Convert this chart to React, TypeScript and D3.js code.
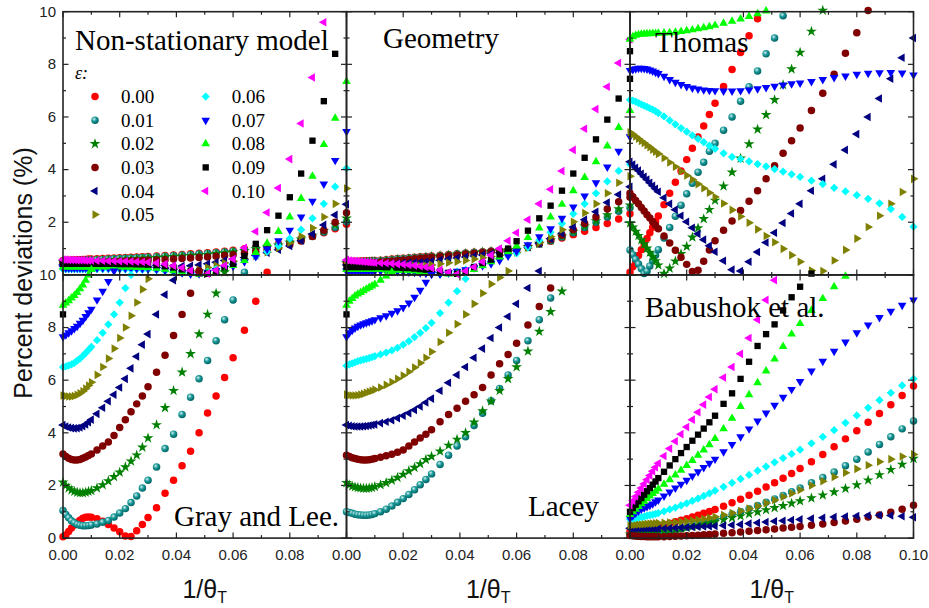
import React from 'react';
import * as d3 from 'd3';

// ε values of the eleven series, with their colours and symbols
const EPS_LABELS = ['0.00', '0.01', '0.02', '0.03', '0.04', '0.05', '0.06', '0.07', '0.08', '0.09', '0.10'];
const SERIES_COLORS = ['#ff0000', '#008080', '#008000', '#800000', '#000080', '#808000', '#00ffff', '#0000ff', '#00ff00', '#000000', '#ff00ff'];
const SERIES_SHAPES = ['circle', 'ball', 'star', 'circle', 'left', 'right', 'diamond', 'down', 'up', 'square', 'left'];

// 1/θT sampling points shared by all curves
const X_GRID = [0, 0.001, 0.002, 0.003, 0.004, 0.005, 0.006, 0.007, 0.008, 0.009, 0.01,
  0.012, 0.014, 0.016, 0.018, 0.02, 0.022, 0.024, 0.026, 0.028, 0.03,
  0.033, 0.036, 0.039, 0.042, 0.045, 0.048, 0.051, 0.054, 0.057, 0.06,
  0.064, 0.068, 0.072, 0.076, 0.08, 0.084, 0.088, 0.092, 0.096, 0.1];

const X_TICKS = [0, 0.02, 0.04, 0.06, 0.08, 0.1];
const X_MINOR = [0.01, 0.03, 0.05, 0.07, 0.09];
const Y_TICKS = [0, 2, 4, 6, 8, 10];
const Y_MINOR = [1, 3, 5, 7, 9];

// percent deviations (%), one row per ε, read at X_GRID; rows stop once the curve leaves the frame
const nonStationary = [
  [0.55, 0.56, 0.56, 0.57, 0.57, 0.58, 0.58, 0.59, 0.59, 0.6, 0.6, 0.61, 0.62, 0.63, 0.64, 0.65, 0.66, 0.67, 0.68, 0.69, 0.7, 0.72, 0.74, 0.76, 0.78, 0.8, 0.82, 0.84, 0.87, 0.9, 0.94, 0.99, 1.04, 1.1, 1.18, 1.27, 1.37, 1.48, 1.6, 1.75, 1.92],
  [0.52, 0.52, 0.53, 0.53, 0.54, 0.54, 0.55, 0.55, 0.56, 0.56, 0.57, 0.58, 0.59, 0.6, 0.61, 0.62, 0.63, 0.64, 0.65, 0.66, 0.67, 0.69, 0.71, 0.73, 0.75, 0.77, 0.79, 0.81, 0.84, 0.87, 0.9, 0.95, 1.0, 1.07, 1.15, 1.24, 1.35, 1.48, 1.63, 1.8, 2.02],
  [0.48, 0.48, 0.49, 0.49, 0.5, 0.5, 0.51, 0.51, 0.52, 0.52, 0.53, 0.54, 0.55, 0.56, 0.57, 0.58, 0.59, 0.6, 0.61, 0.62, 0.63, 0.65, 0.67, 0.69, 0.71, 0.73, 0.75, 0.77, 0.8, 0.83, 0.87, 0.92, 0.98, 1.05, 1.13, 1.23, 1.35, 1.5, 1.68, 1.9, 2.15],
  [0.44, 0.44, 0.45, 0.45, 0.45, 0.46, 0.46, 0.46, 0.47, 0.47, 0.47, 0.48, 0.49, 0.5, 0.5, 0.51, 0.52, 0.53, 0.54, 0.55, 0.56, 0.57, 0.58, 0.6, 0.62, 0.64, 0.66, 0.68, 0.71, 0.74, 0.77, 0.82, 0.88, 0.95, 1.04, 1.15, 1.29, 1.46, 1.7, 2.0, 2.36],
  [0.38, 0.38, 0.38, 0.38, 0.38, 0.38, 0.38, 0.38, 0.38, 0.38, 0.38, 0.38, 0.38, 0.38, 0.38, 0.38, 0.38, 0.38, 0.38, 0.38, 0.38, 0.37, 0.36, 0.35, 0.34, 0.35, 0.38, 0.42, 0.48, 0.55, 0.6, 0.66, 0.74, 0.84, 0.96, 1.1, 1.3, 1.55, 1.9, 2.28, 2.68],
  [0.32, 0.32, 0.32, 0.32, 0.32, 0.32, 0.32, 0.32, 0.32, 0.32, 0.32, 0.32, 0.32, 0.32, 0.32, 0.32, 0.32, 0.31, 0.31, 0.31, 0.3, 0.28, 0.26, 0.22, 0.18, 0.16, 0.2, 0.28, 0.36, 0.45, 0.52, 0.6, 0.72, 0.86, 1.02, 1.22, 1.47, 1.78, 2.2, 2.7, 3.28],
  [0.22, 0.22, 0.22, 0.22, 0.22, 0.22, 0.22, 0.22, 0.22, 0.22, 0.22, 0.22, 0.22, 0.22, 0.22, 0.22, 0.21, 0.21, 0.21, 0.2, 0.2, 0.18, 0.15, 0.12, 0.08, 0.05, 0.06, 0.12, 0.22, 0.32, 0.42, 0.55, 0.7, 0.88, 1.1, 1.38, 1.72, 2.15, 2.7, 3.35, 4.05],
  [0.26, 0.26, 0.26, 0.26, 0.26, 0.26, 0.26, 0.26, 0.26, 0.26, 0.26, 0.26, 0.26, 0.26, 0.26, 0.25, 0.25, 0.25, 0.24, 0.24, 0.23, 0.21, 0.18, 0.13, 0.08, 0.03, 0.04, 0.1, 0.17, 0.25, 0.33, 0.5, 0.7, 0.98, 1.3, 1.7, 2.2, 2.8, 3.45, 4.35, 5.45],
  [0.3, 0.3, 0.3, 0.3, 0.3, 0.3, 0.3, 0.3, 0.3, 0.3, 0.3, 0.3, 0.3, 0.3, 0.3, 0.3, 0.29, 0.29, 0.28, 0.28, 0.27, 0.25, 0.21, 0.16, 0.1, 0.05, 0.02, 0.06, 0.14, 0.24, 0.36, 0.55, 0.85, 1.2, 1.65, 2.2, 2.9, 3.75, 4.95, 5.95, 7.35],
  [0.42, 0.42, 0.42, 0.42, 0.42, 0.42, 0.42, 0.42, 0.42, 0.42, 0.42, 0.42, 0.42, 0.42, 0.42, 0.41, 0.41, 0.41, 0.4, 0.4, 0.39, 0.37, 0.33, 0.28, 0.21, 0.14, 0.07, 0.04, 0.1, 0.24, 0.42, 0.72, 1.18, 1.7, 2.25, 2.95, 3.85, 5.1, 6.6, 8.4, 10.5],
  [0.58, 0.58, 0.57, 0.57, 0.57, 0.56, 0.56, 0.56, 0.55, 0.55, 0.55, 0.54, 0.54, 0.53, 0.53, 0.52, 0.52, 0.51, 0.5, 0.49, 0.48, 0.45, 0.41, 0.35, 0.27, 0.17, 0.08, 0.05, 0.18, 0.36, 0.6, 1.03, 1.65, 2.37, 3.3, 4.4, 5.75, 7.5, 9.6],
];

const geometry = [
  [0.5, 0.51, 0.51, 0.52, 0.52, 0.53, 0.53, 0.54, 0.54, 0.55, 0.55, 0.56, 0.58, 0.6, 0.62, 0.63, 0.65, 0.67, 0.69, 0.7, 0.72, 0.75, 0.78, 0.8, 0.83, 0.86, 0.88, 0.91, 0.93, 0.96, 0.98, 1.07, 1.17, 1.28, 1.4, 1.53, 1.66, 1.8, 1.95, 2.12, 2.32],
  [0.48, 0.48, 0.49, 0.49, 0.5, 0.5, 0.51, 0.51, 0.52, 0.52, 0.53, 0.54, 0.56, 0.58, 0.6, 0.61, 0.63, 0.65, 0.67, 0.68, 0.7, 0.73, 0.76, 0.79, 0.82, 0.85, 0.87, 0.9, 0.92, 0.94, 0.96, 1.06, 1.17, 1.3, 1.44, 1.6, 1.8, 2.0, 2.2, 2.42, 2.55],
  [0.45, 0.45, 0.46, 0.46, 0.47, 0.47, 0.48, 0.48, 0.49, 0.49, 0.5, 0.52, 0.54, 0.56, 0.58, 0.59, 0.61, 0.63, 0.65, 0.67, 0.69, 0.72, 0.75, 0.78, 0.81, 0.84, 0.87, 0.89, 0.92, 0.94, 0.96, 1.07, 1.19, 1.32, 1.47, 1.65, 1.85, 2.05, 2.28, 2.5, 2.65],
  [0.42, 0.42, 0.43, 0.43, 0.44, 0.44, 0.45, 0.45, 0.46, 0.46, 0.47, 0.49, 0.51, 0.53, 0.55, 0.57, 0.59, 0.61, 0.63, 0.65, 0.67, 0.7, 0.73, 0.76, 0.79, 0.82, 0.85, 0.88, 0.9, 0.93, 0.95, 1.07, 1.2, 1.35, 1.52, 1.72, 1.95, 2.2, 2.5, 2.78, 2.95],
  [0.38, 0.38, 0.38, 0.38, 0.39, 0.39, 0.39, 0.39, 0.4, 0.4, 0.4, 0.41, 0.42, 0.43, 0.44, 0.45, 0.46, 0.47, 0.48, 0.5, 0.52, 0.56, 0.6, 0.64, 0.68, 0.72, 0.76, 0.8, 0.84, 0.88, 0.92, 1.05, 1.2, 1.38, 1.58, 1.82, 2.1, 2.4, 2.75, 3.05, 3.35],
  [0.34, 0.34, 0.34, 0.34, 0.34, 0.34, 0.34, 0.34, 0.34, 0.34, 0.34, 0.34, 0.34, 0.34, 0.34, 0.34, 0.34, 0.35, 0.35, 0.36, 0.38, 0.42, 0.46, 0.5, 0.55, 0.6, 0.65, 0.7, 0.75, 0.8, 0.85, 1.02, 1.22, 1.45, 1.72, 2.02, 2.35, 2.7, 3.1, 3.5, 3.75],
  [0.22, 0.22, 0.22, 0.22, 0.22, 0.22, 0.22, 0.22, 0.22, 0.21, 0.21, 0.21, 0.2, 0.19, 0.18, 0.17, 0.15, 0.13, 0.11, 0.09, 0.06, 0.02, 0.06, 0.12, 0.2, 0.3, 0.42, 0.53, 0.64, 0.74, 0.82, 1.05, 1.32, 1.62, 1.95, 2.32, 2.7, 3.1, 3.55, 3.95, 4.2],
  [0.15, 0.15, 0.15, 0.15, 0.15, 0.15, 0.15, 0.15, 0.15, 0.15, 0.15, 0.15, 0.14, 0.14, 0.13, 0.12, 0.11, 0.1, 0.08, 0.06, 0.04, 0.03, 0.08, 0.14, 0.2, 0.27, 0.35, 0.42, 0.55, 0.72, 0.9, 1.15, 1.45, 1.75, 2.15, 2.58, 3.0, 3.5, 4.1, 4.7, 5.25],
  [0.2, 0.2, 0.2, 0.2, 0.2, 0.2, 0.2, 0.2, 0.2, 0.2, 0.2, 0.2, 0.19, 0.19, 0.18, 0.17, 0.16, 0.15, 0.13, 0.11, 0.09, 0.06, 0.03, 0.04, 0.08, 0.2, 0.35, 0.5, 0.68, 0.88, 1.1, 1.42, 1.78, 2.2, 2.68, 3.2, 3.7, 4.3, 4.9, 5.6, 6.25],
  [0.3, 0.3, 0.3, 0.3, 0.3, 0.3, 0.3, 0.3, 0.3, 0.3, 0.3, 0.3, 0.29, 0.29, 0.28, 0.27, 0.26, 0.24, 0.22, 0.2, 0.17, 0.13, 0.08, 0.04, 0.1, 0.3, 0.45, 0.58, 0.78, 1.0, 1.28, 1.68, 2.15, 2.63, 3.2, 3.85, 4.45, 5.15, 5.9, 6.7, 7.45],
  [0.57, 0.55, 0.54, 0.53, 0.52, 0.51, 0.5, 0.49, 0.48, 0.47, 0.46, 0.45, 0.44, 0.43, 0.41, 0.4, 0.38, 0.36, 0.33, 0.3, 0.26, 0.19, 0.1, 0.03, 0.15, 0.3, 0.5, 0.75, 1.0, 1.3, 1.6, 2.1, 2.7, 3.25, 3.95, 4.75, 5.55, 6.3, 7.15, 8.05, 8.95],
];

const thomas = [
  [0.1, 0.31, 0.53, 0.74, 0.96, 1.17, 1.38, 1.6, 1.81, 2.03, 2.24, 2.67, 3.1, 3.52, 3.95, 4.38, 4.81, 5.24, 5.66, 6.09, 6.52, 7.16, 7.8, 8.45, 9.09, 9.73, 10.37],
  [0.95, 0.77, 0.59, 0.41, 0.23, 0.05, 0.14, 0.34, 0.55, 0.75, 0.96, 1.4, 1.8, 2.23, 2.65, 3.08, 3.48, 3.9, 4.28, 4.7, 5.0, 5.5, 6.0, 6.6, 7.15, 7.75, 8.4, 9.0, 9.85, 10.4],
  [1.97, 1.81, 1.65, 1.49, 1.33, 1.17, 1.01, 0.85, 0.69, 0.53, 0.37, 0.05, 0.25, 0.52, 0.8, 1.08, 1.43, 1.78, 2.13, 2.48, 2.83, 3.37, 3.9, 4.43, 4.97, 5.53, 6.08, 6.65, 7.22, 7.82, 8.45, 9.25, 10.05],
  [3.1, 2.97, 2.83, 2.7, 2.56, 2.43, 2.29, 2.16, 2.02, 1.89, 1.75, 1.48, 1.21, 0.94, 0.67, 0.4, 0.13, 0.18, 0.52, 0.95, 1.3, 1.7, 2.05, 2.45, 2.8, 3.2, 3.65, 4.15, 4.62, 5.1, 5.58, 6.25, 6.9, 7.62, 8.42, 9.2, 10.05],
  [4.3, 4.19, 4.07, 3.96, 3.84, 3.73, 3.62, 3.5, 3.39, 3.27, 3.16, 2.93, 2.7, 2.48, 2.25, 2.02, 1.79, 1.56, 1.34, 1.11, 0.88, 0.54, 0.2, 0.15, 0.5, 0.87, 1.23, 1.6, 1.97, 2.33, 2.7, 3.2, 3.65, 4.2, 4.75, 5.35, 6.0, 6.7, 7.45, 8.25, 9.0],
  [5.42, 5.34, 5.26, 5.17, 5.09, 5.01, 4.93, 4.85, 4.76, 4.68, 4.6, 4.44, 4.27, 4.11, 3.94, 3.78, 3.62, 3.45, 3.29, 3.12, 2.96, 2.71, 2.47, 2.22, 1.98, 1.73, 1.48, 1.24, 0.99, 0.75, 0.5, 0.17, 0.15, 0.55, 0.95, 1.38, 1.82, 2.25, 2.7, 3.15, 3.65],
  [6.65, 6.62, 6.58, 6.53, 6.48, 6.43, 6.38, 6.33, 6.28, 6.22, 6.15, 6.02, 5.87, 5.72, 5.58, 5.44, 5.3, 5.17, 5.04, 4.91, 4.79, 4.62, 4.48, 4.4, 4.31, 4.21, 4.12, 4.02, 3.92, 3.82, 3.72, 3.58, 3.45, 3.31, 3.17, 3.03, 2.89, 2.72, 2.5, 2.2, 1.83],
  [7.77, 7.8, 7.83, 7.85, 7.85, 7.84, 7.82, 7.79, 7.75, 7.7, 7.65, 7.55, 7.42, 7.32, 7.23, 7.16, 7.1, 7.06, 7.03, 7.01, 7.0, 6.99, 6.99, 7.0, 7.03, 7.07, 7.12, 7.17, 7.22, 7.26, 7.29, 7.35, 7.42, 7.5, 7.56, 7.62, 7.66, 7.68, 7.69, 7.67, 7.6],
  [8.95, 9.05, 9.1, 9.13, 9.14, 9.15, 9.16, 9.16, 9.17, 9.17, 9.18, 9.19, 9.2, 9.22, 9.25, 9.28, 9.31, 9.35, 9.39, 9.43, 9.48, 9.56, 9.64, 9.72, 9.82, 9.92, 10.03],
  [8.5],
  [],
];

const grayLee = [
  [0.05, 0.12, 0.25, 0.38, 0.5, 0.6, 0.68, 0.75, 0.79, 0.8, 0.79, 0.74, 0.64, 0.52, 0.38, 0.24, 0.08, 0.06, 0.28, 0.52, 0.78, 1.15, 1.7, 2.2, 2.75, 3.3, 4.0, 4.75, 5.4, 6.1, 6.85, 7.9, 9.0, 10.1],
  [1.05, 0.9, 0.77, 0.66, 0.58, 0.52, 0.49, 0.47, 0.47, 0.48, 0.5, 0.54, 0.6, 0.67, 0.8, 0.95, 1.12, 1.35, 1.6, 1.9, 2.2, 2.7, 3.4, 3.95, 4.7, 5.35, 6.05, 6.75, 7.5, 8.3, 9.05, 10.1],
  [2.12, 2.0, 1.9, 1.82, 1.77, 1.74, 1.72, 1.72, 1.74, 1.77, 1.8, 1.9, 2.02, 2.17, 2.33, 2.5, 2.7, 2.92, 3.15, 3.45, 3.8, 4.3, 4.95, 5.6, 6.3, 7.0, 7.75, 8.5, 9.3, 10.1],
  [3.2, 3.1, 3.03, 2.99, 2.97, 2.97, 2.99, 3.03, 3.08, 3.14, 3.2, 3.35, 3.5, 3.65, 3.9, 4.2, 4.5, 4.8, 5.1, 5.4, 5.75, 6.3, 6.95, 7.7, 8.5, 9.3, 10.15],
  [4.3, 4.24, 4.2, 4.18, 4.17, 4.18, 4.2, 4.25, 4.32, 4.4, 4.5, 4.72, 4.95, 5.2, 5.45, 5.72, 6.05, 6.45, 6.9, 7.35, 7.75, 8.5, 9.25, 9.8, 10.3],
  [5.42, 5.4, 5.38, 5.38, 5.4, 5.44, 5.5, 5.58, 5.68, 5.8, 5.92, 6.2, 6.5, 6.82, 7.2, 7.6, 8.0, 8.45, 8.95, 9.45, 9.85, 10.5],
  [6.5, 6.52, 6.56, 6.6, 6.66, 6.74, 6.82, 6.92, 7.03, 7.15, 7.27, 7.52, 7.8, 8.12, 8.5, 8.95, 9.5, 10.0, 10.5],
  [7.65, 7.72, 7.8, 7.88, 7.96, 8.05, 8.16, 8.28, 8.42, 8.56, 8.7, 9.05, 9.38, 9.75, 10.15],
  [8.85, 8.93, 9.02, 9.12, 9.22, 9.33, 9.47, 9.62, 9.8, 10.0, 10.2],
  [8.5],
  [],
];

const lacey = [
  [],
  [1.0, 0.97, 0.94, 0.91, 0.89, 0.88, 0.87, 0.87, 0.88, 0.9, 0.93, 1.0, 1.1, 1.22, 1.36, 1.5, 1.66, 1.84, 2.03, 2.23, 2.44, 2.8, 3.15, 3.5, 3.85, 4.28, 4.74, 5.22, 5.68, 6.2, 6.75, 7.5, 8.3, 9.12],
  [2.1, 2.02, 1.97, 1.94, 1.92, 1.9, 1.89, 1.89, 1.9, 1.92, 1.95, 2.02, 2.1, 2.19, 2.3, 2.42, 2.55, 2.68, 2.82, 2.98, 3.1, 3.3, 3.52, 3.75, 4.0, 4.4, 4.83, 5.2, 5.6, 6.05, 6.5, 7.1, 7.85, 8.6, 9.38],
  [3.15, 3.1, 3.05, 3.02, 3.0, 2.98, 2.97, 2.97, 2.98, 3.0, 3.02, 3.07, 3.13, 3.19, 3.26, 3.35, 3.5, 3.65, 3.8, 3.95, 4.12, 4.42, 4.7, 4.93, 5.2, 5.45, 5.72, 6.2, 6.62, 6.98, 7.4, 8.1, 8.8, 9.5],
  [4.3, 4.27, 4.25, 4.24, 4.24, 4.24, 4.25, 4.26, 4.28, 4.3, 4.32, 4.37, 4.42, 4.48, 4.56, 4.65, 4.75, 4.87, 5.0, 5.15, 5.3, 5.6, 5.9, 6.2, 6.5, 6.85, 7.2, 7.6, 8.0, 8.42, 8.9, 9.5, 10.15],
  [5.45, 5.43, 5.42, 5.42, 5.43, 5.45, 5.48, 5.52, 5.56, 5.6, 5.64, 5.72, 5.82, 5.93, 6.05, 6.18, 6.32, 6.48, 6.65, 6.85, 7.08, 7.45, 7.8, 8.13, 8.5, 8.9, 9.3, 9.65, 9.9, 10.15],
  [6.55, 6.6, 6.64, 6.68, 6.72, 6.75, 6.78, 6.81, 6.84, 6.88, 6.91, 6.98, 7.05, 7.13, 7.23, 7.35, 7.48, 7.64, 7.8, 7.98, 8.18, 8.55, 8.95, 9.38, 9.85, 10.3],
  [7.65, 7.8, 7.9, 7.98, 8.05, 8.1, 8.14, 8.18, 8.22, 8.26, 8.3, 8.37, 8.45, 8.54, 8.64, 8.76, 8.93, 9.15, 9.42, 9.72, 10.02],
  [8.85, 9.0, 9.1, 9.2, 9.27, 9.33, 9.4, 9.46, 9.52, 9.58, 9.64, 9.8, 9.96, 10.1],
  [8.5],
  [],
];

const babushok = [
  [0.25, 0.27, 0.29, 0.31, 0.33, 0.35, 0.37, 0.39, 0.41, 0.44, 0.46, 0.51, 0.56, 0.62, 0.68, 0.74, 0.8, 0.87, 0.94, 1.01, 1.09, 1.21, 1.34, 1.48, 1.63, 1.78, 1.94, 2.1, 2.27, 2.45, 2.64, 2.9, 3.18, 3.47, 3.77, 4.08, 4.4, 4.73, 5.07, 5.42, 5.78],
  [0.12, 0.1, 0.09, 0.08, 0.08, 0.08, 0.09, 0.1, 0.12, 0.14, 0.16, 0.2, 0.25, 0.3, 0.36, 0.42, 0.48, 0.54, 0.6, 0.66, 0.72, 0.81, 0.91, 1.01, 1.12, 1.24, 1.36, 1.49, 1.62, 1.76, 1.9, 2.1, 2.3, 2.51, 2.75, 3.0, 3.27, 3.56, 3.85, 4.15, 4.45],
  [0.15, 0.15, 0.16, 0.16, 0.17, 0.18, 0.19, 0.2, 0.21, 0.22, 0.24, 0.27, 0.3, 0.33, 0.36, 0.4, 0.44, 0.48, 0.53, 0.58, 0.63, 0.7, 0.77, 0.84, 0.92, 0.99, 1.07, 1.15, 1.23, 1.32, 1.41, 1.52, 1.63, 1.75, 1.88, 2.02, 2.2, 2.4, 2.6, 2.8, 3.02],
  [0.1, 0.09, 0.08, 0.07, 0.06, 0.06, 0.05, 0.05, 0.05, 0.05, 0.05, 0.05, 0.06, 0.07, 0.08, 0.09, 0.1, 0.11, 0.13, 0.14, 0.16, 0.18, 0.2, 0.23, 0.26, 0.29, 0.32, 0.35, 0.38, 0.41, 0.44, 0.49, 0.54, 0.59, 0.65, 0.72, 0.8, 0.88, 0.98, 1.1, 1.25],
  [0.37, 0.37, 0.37, 0.37, 0.37, 0.37, 0.37, 0.37, 0.37, 0.37, 0.37, 0.38, 0.38, 0.39, 0.4, 0.41, 0.42, 0.43, 0.44, 0.45, 0.46, 0.48, 0.5, 0.52, 0.55, 0.58, 0.61, 0.64, 0.66, 0.69, 0.71, 0.74, 0.77, 0.8, 0.82, 0.84, 0.86, 0.87, 0.86, 0.83, 0.79],
  [0.49, 0.5, 0.51, 0.52, 0.52, 0.53, 0.54, 0.55, 0.55, 0.56, 0.57, 0.58, 0.59, 0.6, 0.62, 0.64, 0.67, 0.7, 0.73, 0.77, 0.81, 0.88, 0.95, 1.03, 1.12, 1.22, 1.33, 1.45, 1.57, 1.7, 1.83, 2.0, 2.16, 2.32, 2.48, 2.63, 2.77, 2.9, 3.0, 3.1, 3.18],
  [0.72, 0.74, 0.76, 0.78, 0.8, 0.82, 0.85, 0.87, 0.89, 0.92, 0.95, 1.02, 1.09, 1.16, 1.24, 1.32, 1.41, 1.5, 1.6, 1.7, 1.8, 1.95, 2.1, 2.25, 2.4, 2.56, 2.72, 2.88, 3.04, 3.2, 3.36, 3.6, 3.85, 4.1, 4.38, 4.66, 4.95, 5.24, 5.52, 5.8, 6.05],
  [0.75, 0.85, 0.95, 1.03, 1.1, 1.15, 1.2, 1.25, 1.3, 1.38, 1.45, 1.6, 1.75, 1.9, 2.05, 2.2, 2.36, 2.52, 2.68, 2.84, 3.0, 3.28, 3.56, 3.85, 4.15, 4.45, 4.75, 5.05, 5.35, 5.65, 5.95, 6.35, 6.72, 7.1, 7.45, 7.8, 8.1, 8.38, 8.62, 8.85, 9.05],
  [0.9, 1.0, 1.1, 1.2, 1.3, 1.4, 1.5, 1.6, 1.69, 1.78, 1.87, 2.05, 2.22, 2.4, 2.58, 2.76, 2.95, 3.15, 3.35, 3.55, 3.78, 4.15, 4.55, 5.0, 5.45, 5.9, 6.35, 6.8, 7.28, 7.75, 8.15, 8.65, 9.1, 9.55, 9.95, 10.4],
  [1.0, 1.14, 1.27, 1.4, 1.52, 1.65, 1.78, 1.9, 2.03, 2.15, 2.28, 2.52, 2.76, 3.0, 3.23, 3.46, 3.7, 3.93, 4.16, 4.4, 4.65, 5.1, 5.5, 6.05, 6.7, 7.3, 7.75, 8.12, 8.65, 9.15, 9.55, 10.05],
  [1.25, 1.42, 1.58, 1.74, 1.9, 2.06, 2.22, 2.38, 2.54, 2.69, 2.84, 3.12, 3.4, 3.68, 3.95, 4.22, 4.5, 4.78, 5.07, 5.36, 5.66, 6.1, 6.5, 7.0, 7.6, 8.3, 9.05, 9.8, 10.5],
];

const PANELS = [
  { title: 'Non-stationary model', data: nonStationary, col: 0, row: 0, tx: 75, ty: 50 },
  { title: 'Geometry', data: geometry, col: 1, row: 0, tx: 383, ty: 48 },
  { title: 'Thomas', data: thomas, col: 2, row: 0, tx: 655, ty: 52 },
  { title: 'Gray and Lee.', data: grayLee, col: 0, row: 1, tx: 174, ty: 526 },
  { title: 'Lacey', data: lacey, col: 1, row: 1, tx: 528, ty: 516 },
  { title: 'Babushok et al.', data: babushok, col: 2, row: 1, tx: 645, ty: 317 },
];

const LEFT = 63;
const TOP = 11.7;
const PW = 283.5;
const PH = 263.2;
const SERIF = "'Liberation Serif', 'Times New Roman', serif";
const SANS = "'Liberation Sans', Arial, sans-serif";

const circlePath = d3.symbol(d3.symbolCircle, 44)();
const starPath = d3.symbol(d3.symbolStar, 36)();
const triPath = d3.symbol(d3.symbolTriangle, 32)();
const squarePath = d3.symbol(d3.symbolSquare, 40)();
const diamondPath = d3.symbol(d3.symbolSquare, 34)();

function Marker({ shape, color, x, y }: { shape: string; color: string; x: number; y: number }) {
  let d = circlePath;
  let rot = 0;
  let fill = color;
  if (shape === 'ball') fill = 'url(#ball)';
  else if (shape === 'star') d = starPath;
  else if (shape === 'square') d = squarePath;
  else if (shape === 'diamond') { d = diamondPath; rot = 45; }
  else if (shape === 'up') d = triPath;
  else if (shape === 'down') { d = triPath; rot = 180; }
  else if (shape === 'left') { d = triPath; rot = -90; }
  else if (shape === 'right') { d = triPath; rot = 90; }
  return <path d={d as string} fill={fill} transform={`translate(${x},${y}) rotate(${rot})`} />;
}

function Panel({ p }: { p: typeof PANELS[number] }) {
  const x0 = LEFT + p.col * PW;
  const y0 = TOP + p.row * PH;
  const x = d3.scaleLinear().domain([0, 0.1]).range([x0, x0 + PW]);
  const y = d3.scaleLinear().domain([0, 10]).range([y0 + PH, y0]);
  const tick = { stroke: '#222', strokeWidth: 1.2 };
  return (
    <g>
      {p.data.map((vals, si) => (
        <g key={si}>
          {vals.map((v, j) => (v < -0.2 || v > 10.2 ? null : (
            <Marker key={j} shape={SERIES_SHAPES[si]} color={SERIES_COLORS[si]} x={x(X_GRID[j])} y={y(v)} />
          )))}
        </g>
      ))}
      <rect x={x0} y={y0} width={PW} height={PH} fill="none" stroke="#222" strokeWidth={1.6} />
      {X_TICKS.concat(X_MINOR).map((t) => {
        const len = X_MINOR.includes(t) ? 3 : 5.5;
        return (
          <g key={`x${t}`}>
            <line x1={x(t)} x2={x(t)} y1={y0 + PH} y2={y0 + PH - len} {...tick} />
            <line x1={x(t)} x2={x(t)} y1={y0} y2={y0 + len} {...tick} />
          </g>
        );
      })}
      {Y_TICKS.concat(Y_MINOR).map((t) => {
        const len = Y_MINOR.includes(t) ? 3 : 5.5;
        return (
          <g key={`y${t}`}>
            <line x1={x0} x2={x0 + len} y1={y(t)} y2={y(t)} {...tick} />
            <line x1={x0 + PW} x2={x0 + PW - len} y1={y(t)} y2={y(t)} {...tick} />
          </g>
        );
      })}
      {p.col === 0 && Y_TICKS.filter((t) => p.row === 1 || t > 0).map((t) => (
        <text key={`yl${t}`} x={x0 - 7} y={y(t) + 4.8} textAnchor="end" fontFamily={SANS} fontSize={15} fill="#222">{t}</text>
      ))}
      {p.row === 1 && X_TICKS.filter((t) => p.col === 2 || t < 0.1).map((t) => (
        <text key={`xl${t}`} x={x(t)} y={y0 + PH + 22} textAnchor="middle" fontFamily={SANS} fontSize={15} fill="#222">{t.toFixed(2)}</text>
      ))}
      {p.row === 1 && (
        <text x={x0 + PW / 2} y={598} textAnchor="middle" fontFamily={SANS} fontSize={25} fill="#111">
          1/θ<tspan fontSize={16} dy={5}>T</tspan>
        </text>
      )}
      <text x={p.tx} y={p.ty} fontFamily={SERIF} fontSize={29} fill="#000">{p.title}</text>
    </g>
  );
}

function Legend() {
  const rows = EPS_LABELS.map((lab, i) => {
    const col = i < 6 ? 0 : 1;
    const r = i < 6 ? i : i - 6;
    const cy = 96.6 + r * 23.6;
    const mx = col === 0 ? 95 : 205.7;
    return (
      <g key={lab}>
        <Marker shape={SERIES_SHAPES[i]} color={SERIES_COLORS[i]} x={mx} y={cy} />
        <text x={mx + 26} y={cy + 6.5} fontFamily={SERIF} fontSize={19} fill="#000">{lab}</text>
      </g>
    );
  });
  return (
    <g>
      <text x={75} y={79} fontFamily={SERIF} fontStyle="italic" fontSize={18} fill="#000">ε:</text>
      {rows}
    </g>
  );
}

export default function App() {
  return (
    <svg width={929} height={608} viewBox="0 0 929 608" style={{ position: 'absolute', left: 0, top: 0, background: '#fff' }}>
      <defs>
        <radialGradient id="ball" cx="0.38" cy="0.35" r="0.65">
          <stop offset="0" stopColor="#d8f0f0" />
          <stop offset="0.45" stopColor="#1c9a9a" />
          <stop offset="1" stopColor="#006464" />
        </radialGradient>
      </defs>
      <rect width={929} height={608} fill="#fff" />
      {PANELS.map((p) => <Panel key={p.title} p={p} />)}
      <Legend />
      <text transform="translate(32,273) rotate(-90)" textAnchor="middle" fontFamily={SANS} fontSize={25} fill="#111">Percent deviations (%)</text>
    </svg>
  );
}
